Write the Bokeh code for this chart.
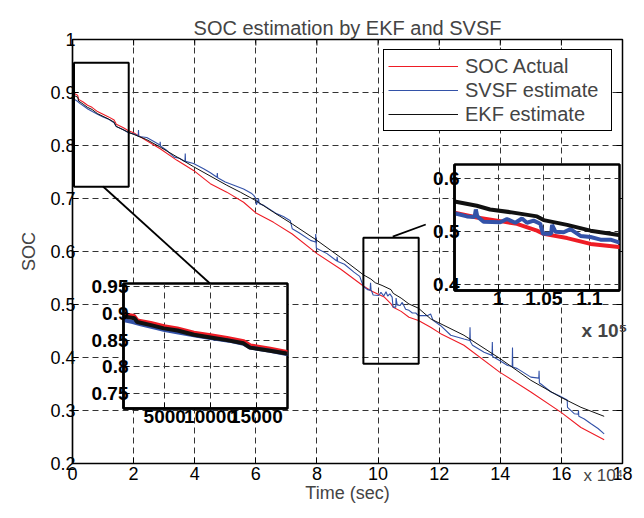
from bokeh.plotting import figure
from bokeh.models import (Range1d, FixedTicker, LinearAxis, Legend, LegendItem,
                          BoxAnnotation, GridBox, Title)
from bokeh.embed import file_html
from bokeh.resources import INLINE

FONT = "Liberation Sans"

# ---------------- data (time in seconds, SOC fraction) ----------------
t_actual = [0, 1663, 2025, 3474, 4923, 6372, 8183, 9995, 11806, 13618, 14343,
            16517, 18329, 20000, 24300, 28700, 34200, 39600, 45100, 50500,
            56000, 60200, 65800, 71900, 80000, 87700, 95200, 97650, 100220,
            102050, 104250, 104980, 107550, 110120, 113230, 117200, 120500,
            128100, 139900, 150000, 159800, 166400, 174000]
soc_actual = [0.900, 0.895, 0.887, 0.882, 0.876, 0.872, 0.864, 0.859, 0.854,
              0.848, 0.840, 0.834, 0.828, 0.824, 0.809, 0.794, 0.772, 0.753,
              0.728, 0.712, 0.693, 0.672, 0.655, 0.633, 0.596, 0.567, 0.535,
              0.526, 0.519, 0.514, 0.501, 0.495, 0.487, 0.476, 0.470, 0.457,
              0.445, 0.423, 0.372, 0.335, 0.297, 0.268, 0.245]

t_svsf = [0, 1500, 2500, 4000, 5000, 6500, 8500, 10000, 12000, 13600, 14300,
          16500, 18300, 20000, 21500, 21600, 21700, 24300, 26500, 28600, 28700,
          28800, 31000, 33300, 35000, 36800, 36900, 37000, 39600, 42900, 45000,
          47300, 47400, 47500, 50000, 52800, 56000, 58500, 59300, 60000, 60200,
          60900, 61100, 62600, 66900, 69000, 71300, 71900, 74000, 77900, 79500,
          79600, 79800, 83300, 86500, 86600, 86800, 89000, 92100, 94000, 95200,
          96560, 97400, 97540, 97700, 98390, 100220, 100950, 101870, 102600,
          103150, 103880, 104610, 104910, 105350, 105800, 105900, 106270,
          107180, 107920, 109020, 110120, 111220, 112320, 113230, 116100,
          117200, 118000, 120500, 123800, 128100, 130000, 130100, 130200,
          130900, 134700, 137300, 137400, 137500, 139900, 142400, 143900,
          144000, 144100, 145600, 150000, 152600, 152700, 152800, 153300,
          156600, 159300, 161900, 162000, 164200, 165500, 165600, 165700,
          167500, 169700, 172000, 174000]
soc_svsf = [0.889, 0.884, 0.879, 0.873, 0.869, 0.864, 0.858, 0.854, 0.849,
            0.843, 0.836, 0.830, 0.824, 0.822, 0.818, 0.829, 0.817, 0.815,
            0.808, 0.801, 0.807, 0.799, 0.790, 0.778, 0.776, 0.770, 0.785,
            0.770, 0.766, 0.756, 0.749, 0.740, 0.748, 0.739, 0.731, 0.725,
            0.718, 0.710, 0.706, 0.700, 0.688, 0.700, 0.690, 0.687, 0.671,
            0.666, 0.658, 0.643, 0.636, 0.621, 0.618, 0.633, 0.606, 0.596,
            0.582, 0.590, 0.581, 0.576, 0.561, 0.553, 0.534, 0.528, 0.527,
            0.541, 0.528, 0.518, 0.517, 0.523, 0.516, 0.524, 0.516, 0.520,
            0.514, 0.495, 0.495, 0.495, 0.512, 0.499, 0.498, 0.504, 0.491,
            0.489, 0.484, 0.484, 0.479, 0.479, 0.482, 0.470, 0.460, 0.442,
            0.435, 0.432, 0.457, 0.430, 0.423, 0.410, 0.404, 0.429, 0.402,
            0.394, 0.385, 0.383, 0.419, 0.382, 0.379, 0.363, 0.361, 0.375,
            0.352, 0.350, 0.335, 0.328, 0.320, 0.306, 0.294, 0.293, 0.300,
            0.289, 0.284, 0.275, 0.266, 0.256]

t_ekf = [0, 1700, 2000, 3500, 4900, 6400, 8200, 10000, 11800, 13600, 14300,
         16500, 18300, 24300, 28700, 39600, 50500, 54900, 60000, 65800, 71900,
         80000, 87700, 95200, 97650, 99100, 101300, 104250, 104980, 107550,
         110120, 113230, 117200, 128100, 139900, 150000, 159800, 166400, 174000]
soc_ekf = [0.896, 0.891, 0.884, 0.878, 0.872, 0.868, 0.860, 0.855, 0.850,
           0.844, 0.836, 0.830, 0.825, 0.811, 0.797, 0.760, 0.725, 0.712,
           0.696, 0.674, 0.652, 0.621, 0.589, 0.556, 0.548, 0.541, 0.536,
           0.528, 0.521, 0.512, 0.501, 0.493, 0.473, 0.442, 0.398, 0.357,
           0.325, 0.306, 0.289]

series_names = ["SOC Actual", "SVSF estimate", "EKF estimate"]

x_ticks = [0, 20000, 40000, 60000, 80000, 100000, 120000, 140000, 160000, 180000]
x_tick_labels = ["0", "2", "4", "6", "8", "10", "12", "14", "16", "18"]
y_ticks = [0.2, 0.3, 0.4, 0.5, 0.6, 0.7, 0.8, 0.9, 1.0]
y_tick_labels = ["0.2", "0.3", "0.4", "0.5", "0.6", "0.7", "0.8", "0.9", "1"]

in1_x_ticks = [5000, 10000, 15000]
in1_x_labels = ["5000", "10000", "15000"]
in1_y_ticks = [0.75, 0.8, 0.85, 0.9, 0.95]
in1_y_labels = ["0.75", "0.8", "0.85", "0.9", "0.95"]
in2_x_ticks = [100000, 105000, 110000]
in2_x_labels = ["1", "1.05", "1.1"]
in2_y_ticks = [0.4, 0.5, 0.6]
in2_y_labels = ["0.4", "0.5", "0.6"]

main_mult = "x 10\u2074"
in2_mult = "x 10\u2075"

# zoom windows (data units)
zoom1_x = (500, 18400)
zoom1_y = (0.722, 0.956)
zoom2_x = (95200, 113300)
zoom2_y = (0.388, 0.626)

RED = "#ee1c25"
BLUE = "#3352a8"
BLACK = "#111111"
GRID = "#333333"

X_RANGE = (0, 180000)
Y_RANGE = (0.2, 1.0)

# ---------------- main figure ----------------
p = figure(width=640, height=512, x_range=Range1d(*X_RANGE),
           y_range=Range1d(*Y_RANGE), output_backend="svg",
           toolbar_location=None, min_border_left=72, min_border_right=18,
           min_border_top=39, min_border_bottom=49)
p.title.text = "SOC estimation by EKF and SVSF"
p.title.align = "center"
p.title.text_font = FONT
p.title.text_font_size = "20px"
p.title.text_font_style = "normal"
p.title.standoff = 2
p.background_fill_color = "white"
p.border_fill_color = "white"
p.outline_line_color = "black"
p.outline_line_width = 1.5


def style_axis(ax, ticks, labels, size, bold=False, width=1.2):
    ax.ticker = FixedTicker(ticks=ticks)
    ax.major_label_overrides = {k: v for k, v in zip(ticks, labels)}
    ax.major_label_text_font = FONT
    ax.major_label_text_font_size = size
    ax.major_label_text_font_style = "bold" if bold else "normal"
    ax.major_label_text_color = "black"
    ax.axis_line_color = "black"
    ax.axis_line_width = width
    ax.major_tick_in = 6
    ax.major_tick_out = 0
    ax.major_tick_line_color = "black"
    ax.minor_tick_line_color = None


style_axis(p.xaxis[0], x_ticks, x_tick_labels, "18px")
style_axis(p.yaxis[0], y_ticks, y_tick_labels, "18px")
p.xaxis.major_label_standoff = 3
p.yaxis.major_label_standoff = -3
p.xaxis.axis_label = "Time (sec)"
p.yaxis.axis_label = "SOC"
for ax in (p.xaxis[0], p.yaxis[0]):
    ax.axis_label_text_font = FONT
    ax.axis_label_text_font_size = "18px"
    ax.axis_label_text_font_style = "normal"
p.xaxis.axis_label_standoff = 0
p.yaxis.axis_label_standoff = 8

# ticks on the right frame edge
right_ax = LinearAxis(ticker=FixedTicker(ticks=y_ticks), major_label_text_font_size="1px",
                      major_label_text_alpha=0, major_tick_in=6, major_tick_out=0,
                      major_label_standoff=0, axis_line_color="black",
                      minor_tick_line_color=None)
p.add_layout(right_ax, "right")
# ticks on the top frame edge (short downward rays from the top of the range)
p.ray(x=x_ticks, y=[Y_RANGE[1]] * len(x_ticks), length=6, length_units="screen",
      angle=-90, angle_units="deg", line_color="black", line_width=1)

p.xgrid.ticker = FixedTicker(ticks=x_ticks)
p.ygrid.ticker = FixedTicker(ticks=y_ticks)
p.grid.grid_line_color = GRID
p.grid.grid_line_dash = "6 4"
p.grid.grid_line_width = 1

r_act = p.line(t_actual, soc_actual, line_color=RED, line_width=1.1)
r_svsf = p.line(t_svsf, soc_svsf, line_color=BLUE, line_width=1.1)
r_ekf = p.line(t_ekf, soc_ekf, line_color=BLACK, line_width=1.0)

legend = Legend(items=[LegendItem(label=series_names[0], renderers=[r_act]),
                       LegendItem(label=series_names[1], renderers=[r_svsf]),
                       LegendItem(label=series_names[2], renderers=[r_ekf])],
                location="top_right")
legend.label_text_font = FONT
legend.label_text_font_size = "20px"
legend.glyph_width = 70
legend.glyph_height = 24
legend.label_height = 24
legend.label_width = 142
legend.label_standoff = 7
legend.padding = 4
legend.spacing = 0
legend.margin = 10
legend.border_line_color = "black"
legend.border_line_alpha = 1
legend.border_line_width = 1.2
legend.background_fill_color = "white"
legend.background_fill_alpha = 1
p.add_layout(legend)

for zx, zy in ((zoom1_x, zoom1_y), (zoom2_x, zoom2_y)):
    p.add_layout(BoxAnnotation(left=zx[0], right=zx[1], bottom=zy[0], top=zy[1],
                               fill_alpha=0, line_color="black", line_alpha=1,
                               line_width=2))

p.line([10000, 45000], [0.7226, 0.5396], line_color="black", line_width=1.8)
p.line([104800, 115600], [0.628, 0.651], line_color="black", line_width=1.8)


# ---------------- insets ----------------
def make_inset(xr, yr, w, h, bl, bb, br, bt, xt, xl, yt, yl):
    f = figure(width=w, height=h, x_range=Range1d(*xr), y_range=Range1d(*yr),
               output_backend="svg", toolbar_location=None,
               min_border_left=bl, min_border_bottom=bb, min_border_right=br,
               min_border_top=bt)
    f.border_fill_alpha = 0
    f.background_fill_color = "white"
    f.outline_line_color = "black"
    f.outline_line_width = 2.5
    style_axis(f.xaxis[0], xt, xl, "19px", bold=True, width=2.5)
    style_axis(f.yaxis[0], yt, yl, "19px", bold=True, width=2.5)
    f.xaxis.major_label_standoff = 1
    f.yaxis.major_label_standoff = -5
    f.xgrid.ticker = FixedTicker(ticks=xt)
    f.ygrid.ticker = FixedTicker(ticks=yt)
    f.grid.grid_line_color = GRID
    f.grid.grid_line_dash = "6 4"
    f.grid.grid_line_width = 1
    f.line(t_actual, soc_actual, line_color=RED, line_width=4)
    f.line(t_svsf, soc_svsf, line_color=BLUE, line_width=4)
    f.line(t_ekf, soc_ekf, line_color=BLACK, line_width=4)
    return f


inset1 = make_inset(zoom1_x, zoom1_y, 214, 167, 45, 30, 5, 12,
                    in1_x_ticks, in1_x_labels, in1_y_ticks, in1_y_labels)
inset2 = make_inset(zoom2_x, zoom2_y, 220, 191, 40, 60, 15, 5,
                    in2_x_ticks, in2_x_labels, in2_y_ticks, in2_y_labels)
# a tiny blank axis label adds a little space above the multiplier
inset2.xaxis.axis_label = "\u00a0"
inset2.xaxis.axis_label_text_font_size = "7px"
inset2.xaxis.axis_label_standoff = 0
inset2.add_layout(Title(text=in2_mult, align="right", offset=-8, standoff=0,
                        text_font=FONT, text_font_size="19px",
                        text_font_style="bold"), "below")

# multiplier of the main x axis: title below a transparent overlay figure
mult4 = figure(width=100, height=83, x_range=Range1d(0, 1), y_range=Range1d(0, 1),
               x_axis_type=None, y_axis_type=None,
               output_backend="svg", toolbar_location=None, title_location="below",
               min_border_top=0, min_border_bottom=28, min_border_left=0,
               min_border_right=0)
mult4.title.text = main_mult
mult4.title.text_font = FONT
mult4.title.text_font_size = "17px"
mult4.title.text_font_style = "normal"
mult4.title.align = "left"
mult4.title.offset = 49
mult4.title.standoff = 0
mult4.outline_line_color = None
mult4.background_fill_alpha = 0
mult4.border_fill_alpha = 0

grid = GridBox(children=[(p, 0, 0, 6, 6), (inset1, 2, 1, 3, 1),
                         (inset2, 1, 3, 2, 2), (mult4, 4, 4, 2, 1)],
               rows=["159px", "112px", "79px", "79px", "9px", "74px"],
               cols=["78px", "214px", "122px", "120px", "100px", "6px"], spacing=0)

open("out.html", "w").write(file_html(grid, INLINE))
